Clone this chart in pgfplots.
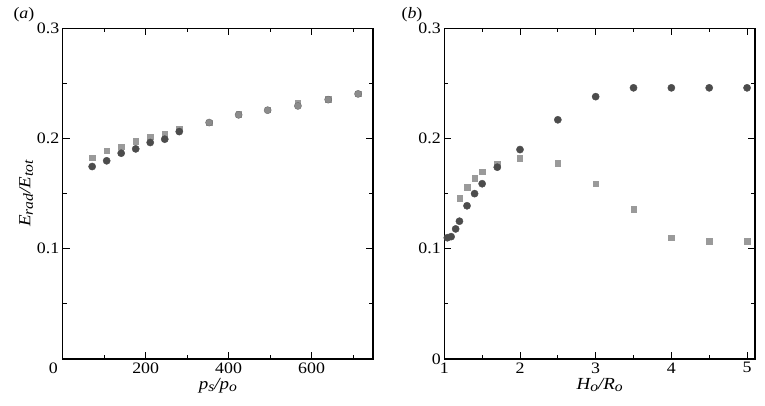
\documentclass[border=0pt]{standalone}
\usepackage{fontspec}
\setmainfont{Liberation Serif}[FakeStretch=1.12]
\usepackage{pgfplots}
\pgfplotsset{compat=1.18}
\definecolor{darkpt}{HTML}{4C4C4C}
\definecolor{midpt}{HTML}{8C8C8C}
\definecolor{lightsq}{HTML}{9A9A9A}

\newcommand{\tickfont}{\fontsize{16}{19}\selectfont}
\newcommand{\labfont}{\fontsize{17}{20}\selectfont}
\newcommand{\sub}[1]{\raisebox{-0.32ex}{\fontsize{14}{16}\selectfont #1}}

\pgfplotsset{
  panel/.style={
    scale only axis,
    axis line style={line width=1.1pt},
    tick align=inside,
    tick style={black, line width=0.8pt},
    major tick length=7bp,
    minor tick length=4bp,
    ymin=0, ymax=0.3,
    tick label style={font=\tickfont},
    label style={font=\labfont},
    xlabel style={yshift=2bp},
    /pgf/number format/assume math mode=true,
    /pgf/number format/fixed,
    /pgf/number format/precision=1,
    /pgf/number format/fixed zerofill=false,
    clip=false,
  },
  circ/.style={only marks, mark=*, mark size=3.6bp, mark options={fill=darkpt, draw=darkpt}},
  circmid/.style={only marks, mark=*, mark size=3.6bp, mark options={fill=midpt, draw=darkpt!80, line width=0.4pt}},
  sq/.style={only marks, mark=square*, mark size=2.7bp, mark options={fill=lightsq, draw=lightsq}},
}

\begin{document}
\begin{tikzpicture}
\path[use as bounding box] (-62.7bp,-47bp) rectangle (702.3bp,359bp);

%% (a)
\begin{axis}[panel,
  at={(0bp,0bp)}, anchor=south west,
  width=310.3bp, height=330.7bp,
  xmin=0, xmax=748,
  xtick={0,200,400,600}, minor xtick={100,300,500,700},
  xticklabels={\llap{0\hspace{5bp}},200,400,600},
  ytick={0.1,0.2,0.3}, minor ytick={0,0.05,0.15,0.25},
  xlabel={\textit{p\sub{s}/p\sub{o}}},
  ylabel={\textit{E\sub{rad}/E\sub{tot}}},
  ylabel style={yshift=-3bp},
]
\addplot[sq] coordinates {
  (71,0.1828) (106,0.1888) (141,0.1927) (176,0.1976) (211,0.2018) (246,0.2045) (281,0.2088)
  (353,0.2145) (424,0.2220) (494,0.2260) (567,0.2320) (640,0.2356) (712,0.2405)
};
\addplot[circ] coordinates {
  (71,0.1746) (106,0.1798) (141,0.1867) (176,0.1906) (211,0.1964) (246,0.1994) (281,0.2063)
};
\addplot[circmid] coordinates {
  (353,0.2145) (424,0.2215) (494,0.2257) (567,0.2296) (640,0.2353) (712,0.2405)
};
\node[font=\fontsize{16}{19}\selectfont] at (rel axis cs:-0.125,1.042) {(\textit{a})};
\end{axis}

%% (b)
\begin{axis}[panel,
  at={(381.6bp,0bp)}, anchor=south west,
  width=310.7bp, height=330.7bp,
  xmin=1, xmax=5.105,
  xtick={1,2,3,4,5}, minor xtick={1.5,2.5,3.5,4.5},
  xticklabel={\pgfmathprintnumber[precision=0]{\tick}},
  ytick={0,0.1,0.2,0.3}, minor ytick={0.05,0.15,0.25},
  xlabel={\textit{H\sub{o}/R\sub{o}}},
]
\addplot[sq] coordinates {
  (1.2,0.146) (1.3,0.156) (1.4,0.164) (1.5,0.170) (1.7,0.177) (2.0,0.182)
  (2.5,0.1775) (3.0,0.159) (3.5,0.136) (4.0,0.110) (4.5,0.107) (5.0,0.107)
};
\addplot[circ] coordinates {
  (1.04,0.110) (1.09,0.111) (1.15,0.118) (1.2,0.125) (1.3,0.139) (1.4,0.150) (1.5,0.159)
  (1.7,0.174) (2.0,0.190) (2.5,0.217) (3.0,0.238) (3.5,0.246) (4.0,0.246) (4.5,0.246) (5.0,0.246)
};
\node[font=\fontsize{16}{19}\selectfont] at (rel axis cs:-0.104,1.042) {(\textit{b})};
\end{axis}
\end{tikzpicture}
\end{document}
